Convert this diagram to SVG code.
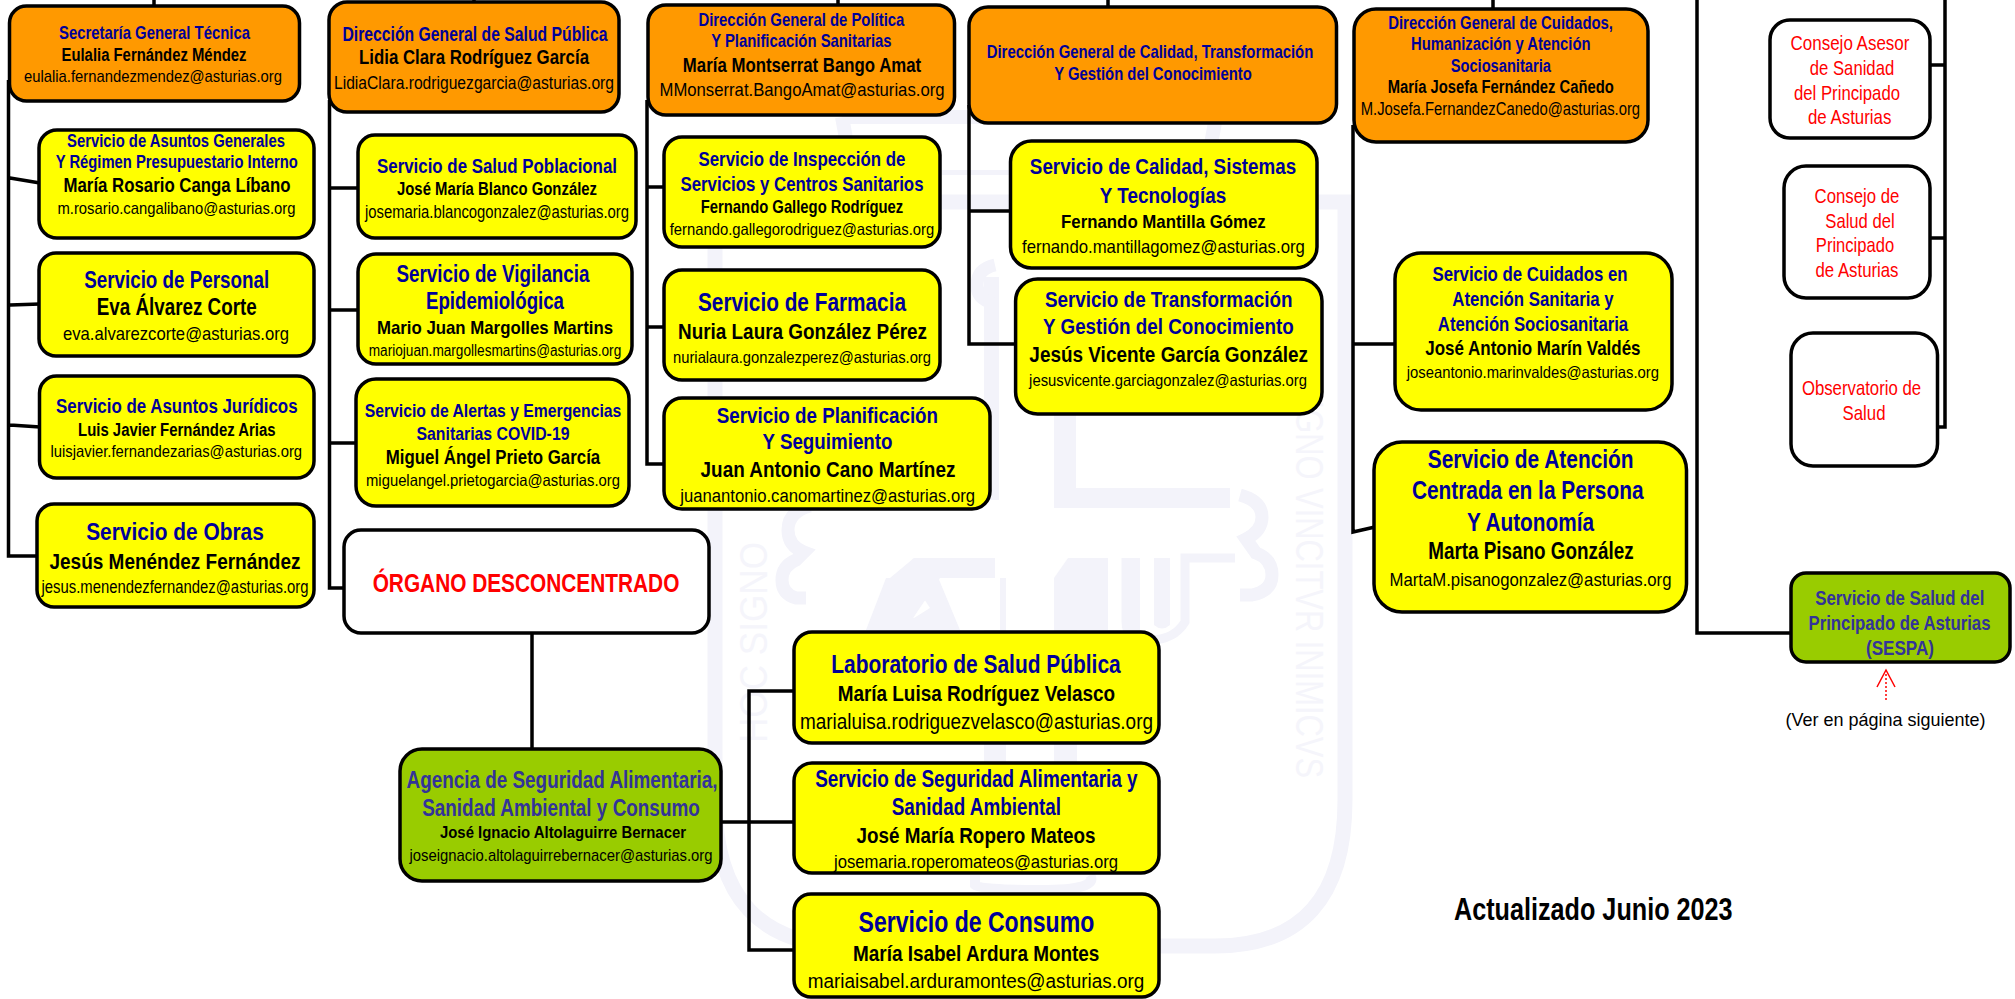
<svg xmlns="http://www.w3.org/2000/svg" width="2015" height="999" viewBox="0 0 2015 999">
<style>
text{font-family:"Liberation Sans",Arial,sans-serif;text-anchor:middle}
.b{stroke:#000;stroke-width:3.5}
.o{fill:#ff9900}.y{fill:#ffff00}.g{fill:#99cc00}.w{fill:#fff}
.t{font-weight:700;fill:#000099}
.a{font-weight:700;fill:#333399}
.n{font-weight:700;fill:#000}
.e{fill:#000}
.r{fill:#ff0000}
.rb{font-weight:700;fill:#ff0000}
.wm{fill:#f3f3fa}
.wl{fill:none;stroke:#f3f3fa}
.wt{fill:#f5f5fb;font-size:38px}
.c{fill:none;stroke:#000;stroke-width:3.5}
</style>
<rect width="2015" height="999" fill="#fff"/>
<g id="watermark">
<path class="wl" stroke-width="15" d="M715 202H1345V800Q1345 946 1215 946H850Q715 946 715 800Z"/>
<path class="wl" stroke-width="14" d="M842 117H1216L1208 160M842 117L850 160"/>
<path class="wm" d="M942 170H1100V175H942Z"/>
<path class="wm" d="M984 277H999V500H984Z"/>
<path class="wm" d="M1054 413H1076V488H1230V508H1054Z"/>
<path class="wl" stroke-width="13" d="M995 265q-18 4-18 20 0 14 16 18M810 506q-22 6-22 24 0 16 16 22l-8 8q-14 6-14 20 0 14 14 18h10M1240 495q22 6 22 22 0 14-16 22l10 14q16 6 16 22 0 16-20 20h-12"/>
<path class="wm" d="M826 578H890L914 558H995V578H1006V630H1000V578H940L905 630H866L886 578H826Z"/>
<path class="wm" d="M914 558L872 630H886L915 585L930 608L914 618L898 605L892 630H960L930 558Z"/>
<path class="wm" d="M1054 578L1068 558H1108V630H1054Z"/>
<path class="wl" stroke-width="9" d="M1126 558V622Q1126 640 1150 640T1185 622V558H1235"/>
<path class="wm" d="M1124 558H1140V640H1124ZM1154 558H1170V625Q1162 632 1154 625Z"/>
<path class="wm" d="M984 630H1006V777H984ZM1054 630H1077V777H1054Z"/>
<path class="wl" stroke-width="10" d="M975 875V885Q980 890 1040 890T1090 875"/>
<text class="wt" transform="translate(767 743) rotate(-90)" style="text-anchor:start" textLength="201" lengthAdjust="spacingAndGlyphs">HOC SIGNO</text>
<text class="wt" transform="translate(1296 380) rotate(90)" style="text-anchor:start" textLength="398" lengthAdjust="spacingAndGlyphs">SIGNO VINCITVR INIMICVS</text>
</g>
<g id="connectors">
<path class="c" d="M154 0V8M474 0V4M838 0V7M1108 0V9M1493 0V11"/>
<path class="c" d="M8.5 80V556H38M10 178L40 183M10 305L40 304M10 425L40 427"/>
<path class="c" d="M329.5 100V588H345M330 188H359M330 310H359M330 443H357"/>
<path class="c" d="M647 100V464H665M647 187H665M647 327H665"/>
<path class="c" d="M969 105V344H1017M969 211H1011"/>
<path class="c" d="M1353 125V532L1375 527M1353 344H1396"/>
<path class="c" d="M1697 0V633H1791"/>
<path class="c" d="M1945 0V427H1938M1930 65H1945M1930 238H1945"/>
<path class="c" d="M532 633V750"/>
<path class="c" d="M721 822H794M749 822V691H794M749 822V950H794"/>
<path fill="none" stroke="#ff0000" stroke-width="1.5" stroke-dasharray="2 2" d="M1886 700V672"/>
<path fill="none" stroke="#ff0000" stroke-width="1.5" d="M1877 687L1886 670L1895 687"/>
</g>
<g id="n-secretaria"><rect class="b o" x="9.5" y="6" width="290" height="95" rx="17"/>
<text class="t" x="154.5" y="39" font-size="18.5" textLength="191" lengthAdjust="spacingAndGlyphs">Secretaría General Técnica</text>
<text class="n" x="154" y="60.7" font-size="18" textLength="185" lengthAdjust="spacingAndGlyphs">Eulalia Fernández Méndez</text>
<text class="e" x="153" y="81.7" font-size="17" textLength="258" lengthAdjust="spacingAndGlyphs">eulalia.fernandezmendez@asturias.org</text></g>
<g id="n-asuntos-generales"><rect class="b y" x="39" y="130" width="275" height="108" rx="18"/>
<text class="t" x="176" y="147" font-size="18" textLength="218" lengthAdjust="spacingAndGlyphs">Servicio de Asuntos Generales</text>
<text class="t" x="176.7" y="168" font-size="18" textLength="242" lengthAdjust="spacingAndGlyphs">Y Régimen Presupuestario Interno</text>
<text class="n" x="177" y="191.7" font-size="19.5" textLength="227" lengthAdjust="spacingAndGlyphs">María Rosario Canga Líbano</text>
<text class="e" x="176.5" y="214" font-size="17" textLength="238" lengthAdjust="spacingAndGlyphs">m.rosario.cangalibano@asturias.org</text></g>
<g id="n-personal"><rect class="b y" x="39" y="253" width="275" height="103" rx="17"/>
<text class="t" x="176.7" y="287.7" font-size="24.5" textLength="185" lengthAdjust="spacingAndGlyphs">Servicio de Personal</text>
<text class="n" x="176.7" y="315" font-size="23" textLength="160" lengthAdjust="spacingAndGlyphs">Eva Álvarez Corte</text>
<text class="e" x="176" y="339.5" font-size="19" textLength="226" lengthAdjust="spacingAndGlyphs">eva.alvarezcorte@asturias.org</text></g>
<g id="n-juridicos"><rect class="b y" x="39.5" y="376" width="274.5" height="102" rx="17"/>
<text class="t" x="176.8" y="412.7" font-size="19.5" textLength="241.5" lengthAdjust="spacingAndGlyphs">Servicio de Asuntos Jurídicos</text>
<text class="n" x="176.8" y="436" font-size="17.5" textLength="197.5" lengthAdjust="spacingAndGlyphs">Luis Javier Fernández Arias</text>
<text class="e" x="176.3" y="457.3" font-size="16.5" textLength="251.6" lengthAdjust="spacingAndGlyphs">luisjavier.fernandezarias@asturias.org</text></g>
<g id="n-obras"><rect class="b y" x="37" y="504" width="277" height="103" rx="17"/>
<text class="t" x="175" y="540" font-size="24.5" textLength="177.7" lengthAdjust="spacingAndGlyphs">Servicio de Obras</text>
<text class="n" x="175" y="569.3" font-size="22.5" textLength="251" lengthAdjust="spacingAndGlyphs">Jesús Menéndez Fernández</text>
<text class="e" x="175" y="593.3" font-size="17.5" textLength="267" lengthAdjust="spacingAndGlyphs">jesus.menendezfernandez@asturias.org</text></g>
<g id="n-dgsp"><rect class="b o" x="329" y="2" width="290" height="110" rx="18"/>
<text class="t" x="475" y="40.7" font-size="19.5" textLength="265" lengthAdjust="spacingAndGlyphs">Dirección General de Salud Pública</text>
<text class="n" x="474" y="64.3" font-size="19.5" textLength="230" lengthAdjust="spacingAndGlyphs">Lidia Clara Rodríguez García</text>
<text class="e" x="474" y="88.7" font-size="17.5" textLength="280" lengthAdjust="spacingAndGlyphs">LidiaClara.rodriguezgarcia@asturias.org</text></g>
<g id="n-salud-poblacional"><rect class="b y" x="358" y="135" width="278" height="103" rx="17"/>
<text class="t" x="497" y="172.7" font-size="20.5" textLength="240" lengthAdjust="spacingAndGlyphs">Servicio de Salud Poblacional</text>
<text class="n" x="497" y="195" font-size="18" textLength="200" lengthAdjust="spacingAndGlyphs">José María Blanco González</text>
<text class="e" x="497" y="217.7" font-size="17.5" textLength="264" lengthAdjust="spacingAndGlyphs">josemaria.blancogonzalez@asturias.org</text></g>
<g id="n-vigilancia"><rect class="b y" x="358" y="254" width="274" height="110" rx="18"/>
<text class="t" x="493" y="281.7" font-size="23" textLength="193" lengthAdjust="spacingAndGlyphs">Servicio de Vigilancia</text>
<text class="t" x="495" y="309.3" font-size="23" textLength="138" lengthAdjust="spacingAndGlyphs">Epidemiológica</text>
<text class="n" x="495" y="334" font-size="19" textLength="236" lengthAdjust="spacingAndGlyphs">Mario Juan Margolles Martins</text>
<text class="e" x="495" y="356" font-size="16" textLength="252.5" lengthAdjust="spacingAndGlyphs">mariojuan.margollesmartins@asturias.org</text></g>
<g id="n-alertas"><rect class="b y" x="356" y="379" width="273" height="127" rx="20"/>
<text class="t" x="493" y="417.3" font-size="19" textLength="256.7" lengthAdjust="spacingAndGlyphs">Servicio de Alertas y Emergencias</text>
<text class="t" x="493" y="440" font-size="19" textLength="153" lengthAdjust="spacingAndGlyphs">Sanitarias COVID-19</text>
<text class="n" x="493" y="464" font-size="19.5" textLength="214.4" lengthAdjust="spacingAndGlyphs">Miguel Ángel Prieto García</text>
<text class="e" x="493" y="486" font-size="16.5" textLength="254" lengthAdjust="spacingAndGlyphs">miguelangel.prietogarcia@asturias.org</text></g>
<g id="n-organo"><rect class="b w" x="344" y="530" width="365" height="103" rx="17"/>
<text class="rb" x="526" y="591.7" font-size="25.5" textLength="306.7" lengthAdjust="spacingAndGlyphs">ÓRGANO DESCONCENTRADO</text></g>
<g id="n-agencia"><rect class="b g" x="400" y="749" width="321" height="132" rx="22"/>
<text class="a" x="562" y="787.7" font-size="23.5" textLength="311" lengthAdjust="spacingAndGlyphs">Agencia de Seguridad Alimentaria,</text>
<text class="a" x="561" y="815.7" font-size="23.5" textLength="277.6" lengthAdjust="spacingAndGlyphs">Sanidad Ambiental y Consumo</text>
<text class="n" x="563" y="838.3" font-size="17" textLength="246" lengthAdjust="spacingAndGlyphs">José Ignacio Altolaguirre Bernacer</text>
<text class="e" x="561" y="860.7" font-size="17" textLength="303" lengthAdjust="spacingAndGlyphs">joseignacio.altolaguirrebernacer@asturias.org</text></g>
<g id="n-laboratorio"><rect class="b y" x="794" y="632" width="365" height="111" rx="18"/>
<text class="t" x="976" y="672.7" font-size="25.5" textLength="289.3" lengthAdjust="spacingAndGlyphs">Laboratorio de Salud Pública</text>
<text class="n" x="976.4" y="701" font-size="22.5" textLength="277.5" lengthAdjust="spacingAndGlyphs">María Luisa Rodríguez Velasco</text>
<text class="e" x="976.5" y="729" font-size="21.5" textLength="353" lengthAdjust="spacingAndGlyphs">marialuisa.rodriguezvelasco@asturias.org</text></g>
<g id="n-seguridad"><rect class="b y" x="794" y="763" width="365" height="110" rx="18"/>
<text class="t" x="976.4" y="786.7" font-size="23.5" textLength="322.5" lengthAdjust="spacingAndGlyphs">Servicio de Seguridad Alimentaria y</text>
<text class="t" x="976.4" y="815" font-size="23.5" textLength="169.4" lengthAdjust="spacingAndGlyphs">Sanidad Ambiental</text>
<text class="n" x="976" y="842.7" font-size="22" textLength="238.8" lengthAdjust="spacingAndGlyphs">José María Ropero Mateos</text>
<text class="e" x="976" y="868.3" font-size="18.5" textLength="284" lengthAdjust="spacingAndGlyphs">josemaria.roperomateos@asturias.org</text></g>
<g id="n-consumo"><rect class="b y" x="794" y="894" width="365" height="103" rx="17"/>
<text class="t" x="976.4" y="931.7" font-size="29" textLength="235.7" lengthAdjust="spacingAndGlyphs">Servicio de Consumo</text>
<text class="n" x="976.2" y="960.7" font-size="22.5" textLength="246.4" lengthAdjust="spacingAndGlyphs">María Isabel Ardura Montes</text>
<text class="e" x="976" y="988.3" font-size="20.5" textLength="336.7" lengthAdjust="spacingAndGlyphs">mariaisabel.arduramontes@asturias.org</text></g>
<g id="n-politica"><rect class="b o" x="648" y="5" width="306.5" height="110" rx="18"/>
<text class="t" x="801.4" y="26" font-size="18.5" textLength="206" lengthAdjust="spacingAndGlyphs">Dirección General de Política</text>
<text class="t" x="801.4" y="47" font-size="18.5" textLength="180.4" lengthAdjust="spacingAndGlyphs">Y Planificación Sanitarias</text>
<text class="n" x="802" y="71.7" font-size="20.5" textLength="238.3" lengthAdjust="spacingAndGlyphs">María Montserrat Bango Amat</text>
<text class="e" x="802" y="96" font-size="18.5" textLength="285" lengthAdjust="spacingAndGlyphs">MMonserrat.BangoAmat@asturias.org</text></g>
<g id="n-inspeccion"><rect class="b y" x="664" y="137" width="276" height="110" rx="18"/>
<text class="t" x="802" y="165.7" font-size="20.5" textLength="207" lengthAdjust="spacingAndGlyphs">Servicio de Inspección de</text>
<text class="t" x="802" y="190.7" font-size="20.5" textLength="243" lengthAdjust="spacingAndGlyphs">Servicios y Centros Sanitarios</text>
<text class="n" x="802" y="213.3" font-size="18.5" textLength="202.5" lengthAdjust="spacingAndGlyphs">Fernando Gallego Rodríguez</text>
<text class="e" x="802" y="235.3" font-size="16.5" textLength="264.5" lengthAdjust="spacingAndGlyphs">fernando.gallegorodriguez@asturias.org</text></g>
<g id="n-farmacia"><rect class="b y" x="664" y="270" width="276" height="110" rx="18"/>
<text class="t" x="802" y="310.7" font-size="25.5" textLength="208" lengthAdjust="spacingAndGlyphs">Servicio de Farmacia</text>
<text class="n" x="802.5" y="339" font-size="22" textLength="249" lengthAdjust="spacingAndGlyphs">Nuria Laura González Pérez</text>
<text class="e" x="802" y="363.3" font-size="16.5" textLength="258" lengthAdjust="spacingAndGlyphs">nurialaura.gonzalezperez@asturias.org</text></g>
<g id="n-planificacion"><rect class="b y" x="664" y="398" width="326" height="111" rx="18"/>
<text class="t" x="827.4" y="422.7" font-size="22.5" textLength="221.3" lengthAdjust="spacingAndGlyphs">Servicio de Planificación</text>
<text class="t" x="827.5" y="449.3" font-size="22.5" textLength="130" lengthAdjust="spacingAndGlyphs">Y Seguimiento</text>
<text class="n" x="828" y="477.3" font-size="21.5" textLength="254.8" lengthAdjust="spacingAndGlyphs">Juan Antonio Cano Martínez</text>
<text class="e" x="827.7" y="502.3" font-size="18" textLength="294.8" lengthAdjust="spacingAndGlyphs">juanantonio.canomartinez@asturias.org</text></g>
<g id="n-calidad"><rect class="b o" x="969" y="7" width="367.5" height="116" rx="19"/>
<text class="t" x="1150" y="58.3" font-size="19" textLength="326.5" lengthAdjust="spacingAndGlyphs">Dirección General de Calidad, Transformación</text>
<text class="t" x="1153" y="80" font-size="19" textLength="197.4" lengthAdjust="spacingAndGlyphs">Y Gestión del Conocimiento</text></g>
<g id="n-calidad-sistemas"><rect class="b y" x="1010.5" y="141" width="306.5" height="127" rx="21"/>
<text class="t" x="1163" y="174.3" font-size="22" textLength="266.3" lengthAdjust="spacingAndGlyphs">Servicio de Calidad, Sistemas</text>
<text class="t" x="1163" y="202.7" font-size="22" textLength="126.3" lengthAdjust="spacingAndGlyphs">Y Tecnologías</text>
<text class="n" x="1163.4" y="228.3" font-size="19" textLength="204.8" lengthAdjust="spacingAndGlyphs">Fernando Mantilla Gómez</text>
<text class="e" x="1163.4" y="253.3" font-size="18.5" textLength="282.8" lengthAdjust="spacingAndGlyphs">fernando.mantillagomez@asturias.org</text></g>
<g id="n-transformacion"><rect class="b y" x="1015.6" y="279" width="306.4" height="135" rx="22"/>
<text class="t" x="1168.7" y="306.7" font-size="22" textLength="247.5" lengthAdjust="spacingAndGlyphs">Servicio de Transformación</text>
<text class="t" x="1168.4" y="334" font-size="22" textLength="250.7" lengthAdjust="spacingAndGlyphs">Y Gestión del Conocimiento</text>
<text class="n" x="1168.7" y="361.7" font-size="21.5" textLength="278.7" lengthAdjust="spacingAndGlyphs">Jesús Vicente García González</text>
<text class="e" x="1168" y="385.7" font-size="16.5" textLength="277.8" lengthAdjust="spacingAndGlyphs">jesusvicente.garciagonzalez@asturias.org</text></g>
<g id="n-cuidados-dg"><rect class="b o" x="1354" y="9" width="294" height="133" rx="22"/>
<text class="t" x="1500.6" y="29" font-size="18" textLength="224.7" lengthAdjust="spacingAndGlyphs">Dirección General de Cuidados,</text>
<text class="t" x="1500.8" y="50" font-size="18" textLength="179.5" lengthAdjust="spacingAndGlyphs">Humanización y Atención</text>
<text class="t" x="1500.8" y="72" font-size="18" textLength="100.3" lengthAdjust="spacingAndGlyphs">Sociosanitaria</text>
<text class="n" x="1500.8" y="93" font-size="18" textLength="226" lengthAdjust="spacingAndGlyphs">María Josefa Fernández Cañedo</text>
<text class="e" x="1500.4" y="115.3" font-size="17.5" textLength="279.4" lengthAdjust="spacingAndGlyphs">M.Josefa.FernandezCanedo@asturias.org</text></g>
<g id="n-cuidados"><rect class="b y" x="1395" y="253" width="277" height="157" rx="26"/>
<text class="t" x="1530" y="281" font-size="20.5" textLength="195" lengthAdjust="spacingAndGlyphs">Servicio de Cuidados en</text>
<text class="t" x="1533" y="305.7" font-size="20.5" textLength="161.4" lengthAdjust="spacingAndGlyphs">Atención Sanitaria y</text>
<text class="t" x="1533" y="330.7" font-size="20.5" textLength="190.3" lengthAdjust="spacingAndGlyphs">Atención Sociosanitaria</text>
<text class="n" x="1532.9" y="355" font-size="20.5" textLength="215.3" lengthAdjust="spacingAndGlyphs">José Antonio Marín Valdés</text>
<text class="e" x="1532.9" y="377.7" font-size="16.5" textLength="252.3" lengthAdjust="spacingAndGlyphs">joseantonio.marinvaldes@asturias.org</text></g>
<g id="n-atencion"><rect class="b y" x="1374" y="442" width="312.5" height="170" rx="28"/>
<text class="t" x="1530.7" y="468.3" font-size="25.5" textLength="205.8" lengthAdjust="spacingAndGlyphs">Servicio de Atención</text>
<text class="t" x="1527.7" y="499.3" font-size="25.5" textLength="231.6" lengthAdjust="spacingAndGlyphs">Centrada en la Persona</text>
<text class="t" x="1530.5" y="530.7" font-size="25.5" textLength="127" lengthAdjust="spacingAndGlyphs">Y Autonomía</text>
<text class="n" x="1530.9" y="559" font-size="23" textLength="205.4" lengthAdjust="spacingAndGlyphs">Marta Pisano González</text>
<text class="e" x="1530.5" y="585.7" font-size="18.5" textLength="282" lengthAdjust="spacingAndGlyphs">MartaM.pisanogonzalez@asturias.org</text></g>
<g id="n-consejo-asesor"><rect class="b w" x="1770" y="20" width="160" height="118" rx="20"/>
<text class="r" x="1850" y="50" font-size="21" textLength="118.8" lengthAdjust="spacingAndGlyphs">Consejo Asesor</text>
<text class="r" x="1852" y="75" font-size="21" textLength="84.4" lengthAdjust="spacingAndGlyphs">de Sanidad</text>
<text class="r" x="1847" y="100" font-size="21" textLength="106" lengthAdjust="spacingAndGlyphs">del Principado</text>
<text class="r" x="1849.7" y="124.3" font-size="21" textLength="83.5" lengthAdjust="spacingAndGlyphs">de Asturias</text></g>
<g id="n-consejo-salud"><rect class="b w" x="1784" y="166" width="146" height="132" rx="22"/>
<text class="r" x="1857" y="202.7" font-size="21" textLength="84.8" lengthAdjust="spacingAndGlyphs">Consejo de</text>
<text class="r" x="1860" y="228.3" font-size="21" textLength="69.4" lengthAdjust="spacingAndGlyphs">Salud del</text>
<text class="r" x="1855" y="252.3" font-size="21" textLength="78.3" lengthAdjust="spacingAndGlyphs">Principado</text>
<text class="r" x="1857" y="276.7" font-size="21" textLength="83" lengthAdjust="spacingAndGlyphs">de Asturias</text></g>
<g id="n-observatorio"><rect class="b w" x="1791" y="333" width="146.5" height="133" rx="22"/>
<text class="r" x="1861.5" y="395" font-size="21" textLength="119.2" lengthAdjust="spacingAndGlyphs">Observatorio de</text>
<text class="r" x="1864" y="420" font-size="21" textLength="43" lengthAdjust="spacingAndGlyphs">Salud</text></g>
<g id="n-sespa"><rect class="b g" x="1791" y="573" width="219" height="89" rx="15"/>
<text class="a" x="1899.8" y="605" font-size="20.5" textLength="169.2" lengthAdjust="spacingAndGlyphs">Servicio de Salud del</text>
<text class="a" x="1899.5" y="630" font-size="20.5" textLength="182" lengthAdjust="spacingAndGlyphs">Principado de Asturias</text>
<text class="a" x="1900" y="655" font-size="20.5" textLength="68" lengthAdjust="spacingAndGlyphs">(SESPA)</text></g>
<g id="labels">
<text class="e" x="1885.6" y="726" font-size="18.5" textLength="200" lengthAdjust="spacingAndGlyphs">(Ver en página siguiente)</text>
<text class="n" x="1593.3" y="920" font-size="31" textLength="278.6" lengthAdjust="spacingAndGlyphs">Actualizado Junio 2023</text>
</g>
</svg>
